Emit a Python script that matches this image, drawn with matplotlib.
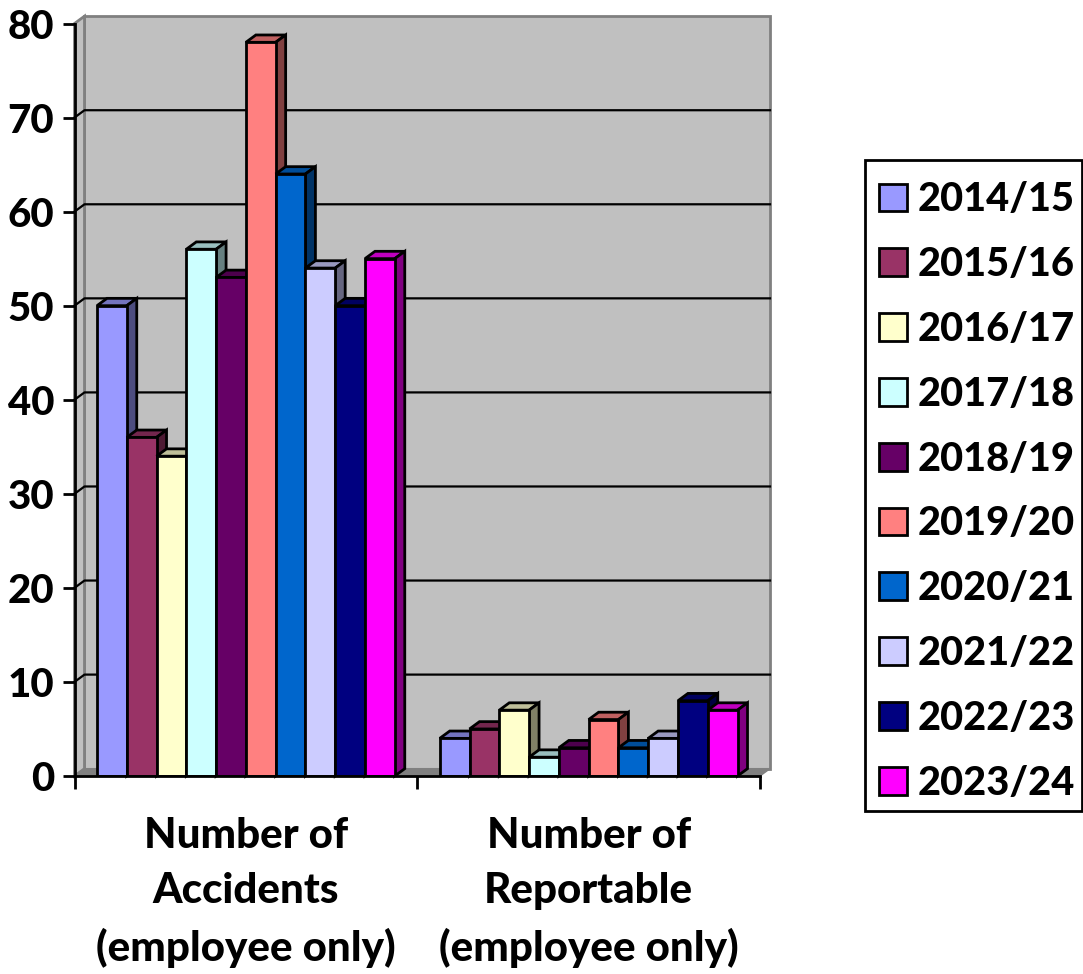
import matplotlib
matplotlib.use('Agg')
import matplotlib.pyplot as plt
from matplotlib.patches import Polygon, Patch, Rectangle

seasons = ['2014/15', '2015/16', '2016/17', '2017/18', '2018/19',
           '2019/20', '2020/21', '2021/22', '2022/23', '2023/24']
accidents = [50, 36, 34, 56, 53, 78, 64, 54, 50, 55]
reportable = [4, 5, 7, 2, 3, 6, 3, 4, 8, 7]
categories = ['Number of\nAccidents\n(employee only)', 'Number of\nReportable\n(employee only)']
colours = ['#9999FF', '#993366', '#FFFFCC', '#CCFFFF', '#660066',
           '#FF8080', '#0066CC', '#CCCCFF', '#000080', '#FF00FF']
y_ticks = [0, 10, 20, 30, 40, 50, 60, 70, 80]

plt.rcParams['font.family'] = ['Lato', 'DejaVu Sans']
plt.rcParams['font.weight'] = 900

# depth of the fake 3D box, in data units
DX = 10 / 343
DY = 0.78
BAR_W = 29.8 / 343
GROUP_PAD = 22.5 / 343


def shade(colour, k):
    r, g, b = matplotlib.colors.to_rgb(colour)
    return (r * k, g * k, b * k)


def face(ax, pts, fc, ec='black', lw=2, z=3):
    ax.add_patch(Polygon(pts, closed=True, facecolor=fc, edgecolor=ec, linewidth=lw,
                         joinstyle='miter', clip_on=False, zorder=z))


def draw_box(ax):
    top = y_ticks[-1]
    face(ax, [(DX, DY), (2 + DX, DY), (2 + DX, top + DY), (DX, top + DY)], '#C0C0C0', '#808080', 2, 1)
    face(ax, [(0, 0), (DX, DY), (DX, top + DY), (0, top)], '#C0C0C0', '#808080', 2, 1)
    face(ax, [(0, 0), (2, 0), (2 + DX, DY), (DX, DY)], '#808080', '#808080', 1, 1)
    for v in y_ticks[1:-1]:
        ax.plot([0, DX, 2 + DX], [v, v + DY, v + DY], color='black', lw=1.6, clip_on=False, zorder=1.5)


def draw_group(ax, group, values):
    for j, v in enumerate(values):
        x = group + GROUP_PAD + j * BAR_W
        c = colours[j]
        z = 3 + j * 0.1
        # top and side first, the front goes over them
        face(ax, [(x, v), (x + BAR_W, v), (x + BAR_W + DX, v + DY), (x + DX, v + DY)], shade(c, 0.75), z=z)
        face(ax, [(x + BAR_W, 0), (x + BAR_W + DX, DY), (x + BAR_W + DX, v + DY), (x + BAR_W, v)],
             shade(c, 0.5), z=z)
        ax.bar(x, v, BAR_W, align='edge', color=c, edgecolor='black', linewidth=2, zorder=z + 0.01)


fig = plt.figure(figsize=(10.83, 9.74), dpi=100)
ax = fig.add_axes([74.5 / 1083, 198 / 974, 685.5 / 1083, 752.5 / 974])
ax.patch.set_visible(False)
ax.set_xlim(0, 2)
ax.set_ylim(0, 80)

draw_box(ax)
draw_group(ax, 0, accidents)
draw_group(ax, 1, reportable)

for s in ['top', 'right']:
    ax.spines[s].set_visible(False)
for s in ['left', 'bottom']:
    ax.spines[s].set_linewidth(2)
    ax.spines[s].set_zorder(10)

ax.set_yticks(y_ticks)
ax.tick_params(axis='y', length=8.6, width=2, labelsize=29, pad=6)
ax.set_xticks([0, 1, 2])
ax.set_xticklabels([])
ax.tick_params(axis='x', which='major', length=9.5, width=2)
ax.set_xticks([0.5, 1.5], minor=True)
ax.set_xticklabels(categories, minor=True, fontsize=30.3, linespacing=1.54)
ax.tick_params(axis='x', which='minor', length=0, pad=29.5)

# legend frame drawn on its own so the rows can sit lower than the box centre
fig.add_artist(Rectangle((865 / 1083, 1 - 811 / 974), 217 / 1083, 651 / 974, transform=fig.transFigure,
                         facecolor='white', edgecolor='black', linewidth=2))
handles = [Patch(facecolor=c, edgecolor='black', linewidth=2) for c in colours]
leg = fig.legend(handles, seasons, loc='upper left', bbox_to_anchor=(863.5 / 1083, 1 - 165.5 / 974),
                 fontsize=28.6, frameon=False, handlelength=0.7, handleheight=0.7,
                 handletextpad=0.26, labelspacing=0.7, borderaxespad=0, borderpad=0.4)

fig.savefig('out.png', dpi=100)
